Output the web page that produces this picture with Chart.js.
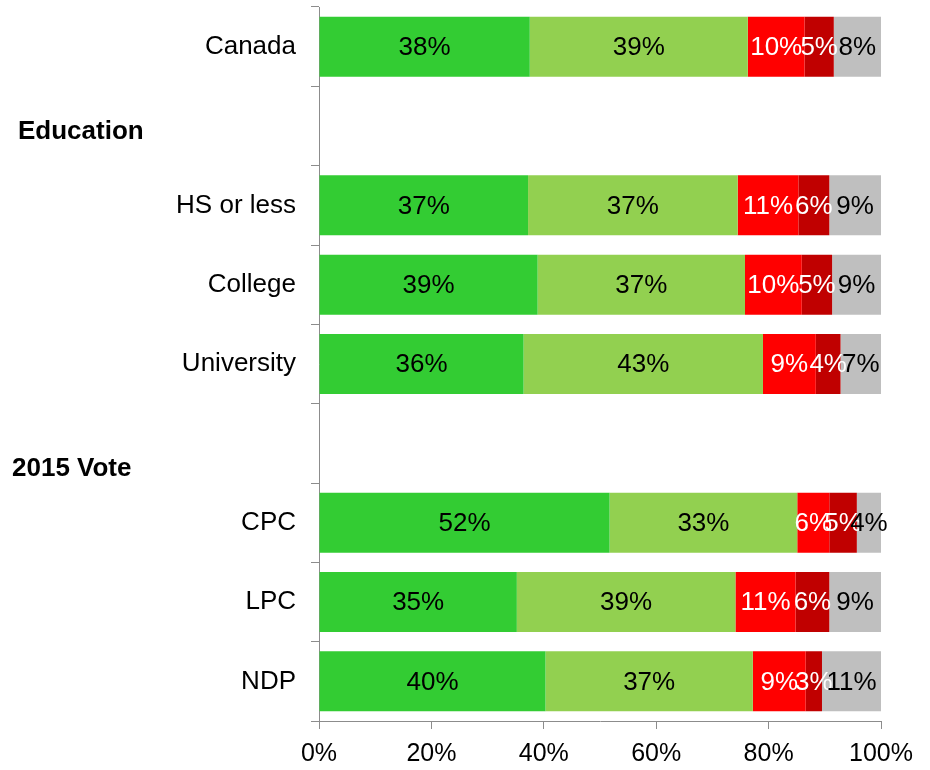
<!DOCTYPE html>
<html>
<head>
<meta charset="utf-8">
<script src="https://cdn.jsdelivr.net/npm/chart.js@4.4.0/dist/chart.umd.min.js"></script>
<style>
  body { margin: 0; background: #fff; }
  #wrap { width: 930px; height: 770px; }
</style>
</head>
<body>
<div id="wrap"><canvas id="voteChart" width="930" height="770"></canvas></div>
<script>
// rows, group headers are empty rows
const categories = ['Canada', 'Education', 'HS or less', 'College', 'University', '2015 Vote', 'CPC', 'LPC', 'NDP'];
const headers = ['Education', '2015 Vote'];

// values (labels are rounded)
const series1 = [37.5, null, 37.2, 38.9, 36.4, null, 51.7, 35.2, 40.3];
const series2 = [38.8, null, 37.3, 36.9, 42.6, null, 33.4, 38.9, 36.9];
const series3 = [10.1, null, 10.8, 10.1, 9.4, null, 5.7, 10.7, 9.4];
const series4 = [5.2, null, 5.5, 5.4, 4.4, null, 4.9, 6.0, 2.9];
const series5 = [8.4, null, 9.2, 8.7, 7.2, null, 4.3, 9.2, 10.5];
const seriesNames = ['Series 1', 'Series 2', 'Series 3', 'Series 4', 'Series 5'];
const xTicks = [0, 20, 40, 60, 80, 100];

const FONT = '"Liberation Sans", Arial, sans-serif';

const barLabels = {
  id: 'barLabels',
  afterDatasetsDraw(chart) {
    const ctx = chart.ctx;
    ctx.save();
    ctx.font = '26px ' + FONT;
    ctx.textAlign = 'center';
    ctx.textBaseline = 'middle';
    chart.data.datasets.forEach((ds, i) => {
      chart.getDatasetMeta(i).data.forEach((bar, j) => {
        const v = ds.data[j];
        if (v == null) return;
        const p = bar.getCenterPoint();
        ctx.fillStyle = ds.labelColor;
        ctx.fillText(Math.round(v) + '%', p.x, p.y + 1);
      });
    });
    ctx.restore();
  }
};

// bold group titles on the left
const groupHeaders = {
  id: 'groupHeaders',
  afterDraw(chart) {
    const ctx = chart.ctx;
    const y = chart.scales.y;
    const place = { 'Education': [18, 6], '2015 Vote': [12, 25] };
    ctx.save();
    ctx.font = 'bold 26px ' + FONT;
    ctx.fillStyle = '#000';
    ctx.textAlign = 'left';
    ctx.textBaseline = 'middle';
    headers.forEach(h => {
      const i = categories.indexOf(h);
      const p = place[h];
      ctx.fillText(h, p[0], y.getPixelForValue(i) + p[1]);
    });
    ctx.restore();
  }
};

const ctx = document.getElementById('voteChart').getContext('2d');
new Chart(ctx, {
  type: 'bar',
  data: {
    labels: categories,
    datasets: [
      { label: seriesNames[0], data: series1, backgroundColor: '#33CC33', labelColor: '#000' },
      { label: seriesNames[1], data: series2, backgroundColor: '#92D050', labelColor: '#000' },
      { label: seriesNames[2], data: series3, backgroundColor: '#FF0000', labelColor: '#fff' },
      { label: seriesNames[3], data: series4, backgroundColor: '#C00000', labelColor: '#fff' },
      { label: seriesNames[4], data: series5, backgroundColor: '#BFBFBF', labelColor: '#000' }
    ]
  },
  options: {
    indexAxis: 'y',
    responsive: false,
    animation: false,
    devicePixelRatio: 1,
    datasets: { bar: { categoryPercentage: 1, barPercentage: 0.757 } },
    layout: { padding: { left: 0, right: 49, top: 7, bottom: 0 } },
    plugins: { legend: { display: false }, tooltip: { enabled: false } },
    scales: {
      x: {
        stacked: true,
        min: xTicks[0],
        max: xTicks[xTicks.length - 1],
        afterBuildTicks: s => { s.ticks = xTicks.map(v => ({ value: v })); },
        afterFit: s => { s.height = 49; s.paddingLeft = 0; s.paddingRight = 0; },
        grid: { drawOnChartArea: false, tickLength: 8, color: '#8c8c8c' },
        border: { color: '#8c8c8c', width: 1 },
        ticks: { padding: 10, color: '#000', font: { family: FONT, size: 25 }, callback: v => v + '%' }
      },
      y: {
        stacked: true,
        afterFit: s => { s.width = 319; s.paddingTop = 0; s.paddingBottom = 0; },
        grid: { offset: true, drawOnChartArea: false, tickLength: 8, color: '#8c8c8c' },
        border: { color: '#8c8c8c', width: 1 },
        ticks: {
          padding: 15, color: '#000', font: { family: FONT, size: 26 },
          callback: v => headers.includes(categories[v]) ? '' : categories[v]
        }
      }
    }
  },
  plugins: [barLabels, groupHeaders]
});
</script>
</body>
</html>
